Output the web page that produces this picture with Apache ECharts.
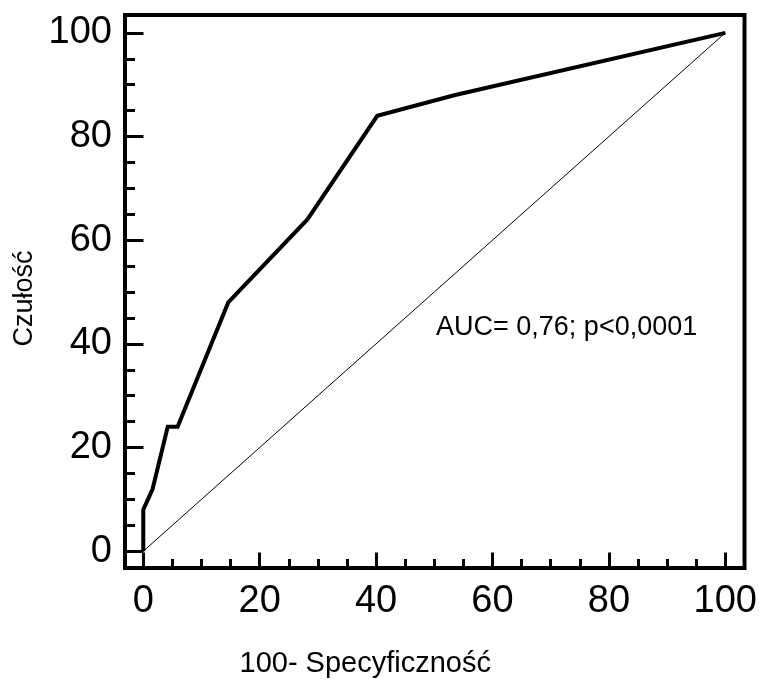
<!DOCTYPE html>
<html>
<head>
<meta charset="utf-8">
<style>html,body{margin:0;padding:0;background:#fff;}#c{width:760px;height:683px;}</style>
<script src="https://cdn.jsdelivr.net/npm/echarts@6/dist/echarts.min.js"></script>
</head>
<body>
<div id="c"></div>
<script>
// ROC curve points (100 - specificity, sensitivity)
const fpr = [0, 0, 1.6, 4.2, 5.9, 14.6, 28.2, 40.2, 53.6, 100];
const tpr = [0, 8, 12, 24, 24, 48, 64, 84, 88, 100];
// reference diagonal
const diagX = [0, 100];
const diagY = [0, 100];
// ticks
const majorTicks = [0, 20, 40, 60, 80, 100];
const minorTicks = [5, 10, 15, 25, 30, 35, 45, 50, 55, 65, 70, 75, 85, 90, 95];
const xTitle = '100- Specyficzność';
const yTitle = 'Czułość';
const annotation = 'AUC= 0,76; p<0,0001';
const annotationPos = [50.3, 43.2];

const FONT = "'Liberation Sans', Arial, sans-serif";
const chart = echarts.init(document.getElementById('c'), null, {renderer: 'canvas'});

const xMin = -3.14, xMax = 103.3, yMin = -3.24, yMax = 103.44;

function axisBase(min, max) {
  return {type: 'value', min: min, max: max, gridIndex: 0,
    axisLine: {show: false, onZero: false}, splitLine: {show: false}};
}
const xMain = Object.assign(axisBase(xMin, xMax), {
  position: 'bottom',
  axisTick: {inside: true, length: 15.5, lineStyle: {color: '#000', width: 3}, customValues: majorTicks},
  axisLabel: {color: '#000', fontFamily: FONT, fontSize: 38, margin: 15, customValues: majorTicks},
  name: xTitle, nameLocation: 'middle', nameGap: 81,
  nameTextStyle: {color: '#000', fontFamily: FONT, fontSize: 29, padding: [0, 139, 0, 0]}
});
const xMinor = Object.assign(axisBase(xMin, xMax), {
  position: 'bottom',
  axisTick: {inside: true, length: 9, lineStyle: {color: '#000', width: 3}, customValues: minorTicks},
  axisLabel: {show: false}
});
const yMain = Object.assign(axisBase(yMin, yMax), {
  position: 'left',
  axisTick: {inside: true, length: 18.5, lineStyle: {color: '#000', width: 3}, customValues: majorTicks},
  axisLabel: {color: '#000', fontFamily: FONT, fontSize: 38, margin: 13, customValues: majorTicks},
  name: yTitle, nameLocation: 'middle', nameGap: 86,
  nameTextStyle: {color: '#000', fontFamily: FONT, fontSize: 27, padding: [0, 14, 0, 0]}
});
const yMinor = Object.assign(axisBase(yMin, yMax), {
  position: 'left',
  axisTick: {inside: true, length: 10, lineStyle: {color: '#000', width: 3}, customValues: minorTicks},
  axisLabel: {show: false}
});

chart.setOption({
  animation: false,
  backgroundColor: '#fff',
  grid: {left: 125, right: 15, top: 15, bottom: 109, show: true, borderColor: '#000', borderWidth: 4, backgroundColor: 'transparent'},
  xAxis: [xMain, xMinor],
  yAxis: [yMain, yMinor],
  series: [
    {type: 'line', xAxisIndex: 0, yAxisIndex: 0, data: diagX.map((v, i) => [v, diagY[i]]),
     showSymbol: false, symbol: 'none', lineStyle: {color: '#000', width: 1}, z: 2},
    {type: 'line', xAxisIndex: 0, yAxisIndex: 0, data: fpr.map((v, i) => [v, tpr[i]]),
     showSymbol: false, symbol: 'none', lineStyle: {color: '#000', width: 4, join: 'miter'}, z: 3},
    {type: 'scatter', xAxisIndex: 0, yAxisIndex: 0, data: [annotationPos], symbolSize: 0,
     itemStyle: {opacity: 1, color: '#000'},
     label: {show: true, position: 'right', distance: 0, formatter: annotation, opacity: 1,
       color: '#000', fontFamily: FONT, fontSize: 27}, silent: true, z: 4}
  ]
});
</script>
</body>
</html>
